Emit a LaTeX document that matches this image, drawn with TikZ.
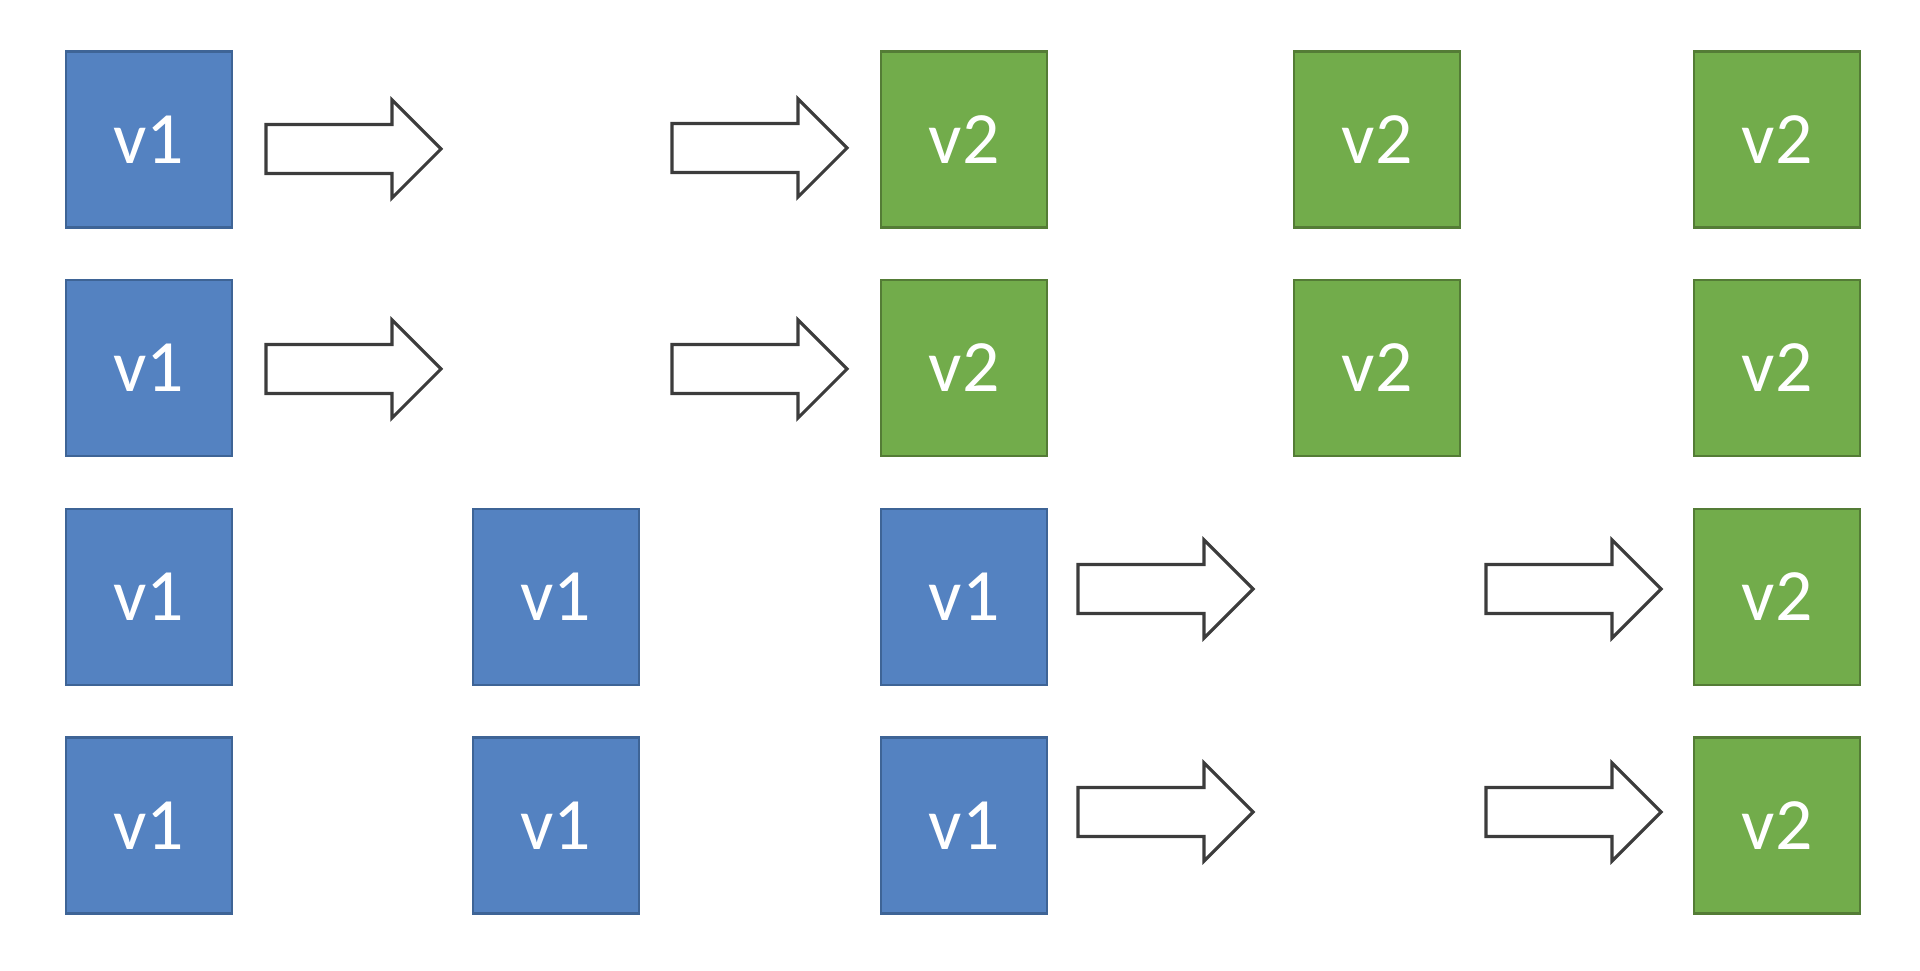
\documentclass[tikz,border=0pt]{standalone}
\usepackage{fontspec}
\setmainfont{Carlito}
\definecolor{vblue}{RGB}{84,130,193}
\definecolor{vblueline}{RGB}{62,100,150}
\definecolor{vgreen}{RGB}{114,172,75}
\definecolor{vgreenline}{RGB}{84,124,54}
\definecolor{arrline}{RGB}{60,60,60}
\tikzset{ver/.style={draw,line width=.8pt,minimum width=1.66cm,minimum height=1.76cm,
   inner sep=0pt,text=white,font=\fontsize{21}{21}\selectfont},
 vone/.style={ver,fill=vblue,draw=vblueline},
 vtwo/.style={ver,fill=vgreen,draw=vgreenline},
 fat/.style={draw=arrline,fill=white,line width=.9pt,line join=miter}}
\newcommand\fatarrow[1]{\draw[fat] (#1) +(0,.245) -- +(1.26,.245) -- +(1.26,.49)
 -- +(1.75,0) -- +(1.26,-.49) -- +(1.26,-.245) -- +(0,-.245) -- cycle;}
\begin{document}
\begin{tikzpicture}
\useasboundingbox (0,0) rectangle (19.2,9.7);
% top two rows: v1 moves over to v2
\foreach \r/\y in {1/8.305,2/6.02}{
 \node[vone] (b\r1) at (1.49,\y) {v1};
 \foreach \c/\x in {3/9.64,4/13.77,5/17.77}
  \node[vtwo] (b\r\c) at (\x,\y) {v2};}
% bottom two rows
\foreach \r/\y in {3/3.73,4/1.445}{
 \foreach \c/\x in {1/1.49,2/5.56,3/9.64}
  \node[vone] (b\r\c) at (\x,\y) {v1};
 \node[vtwo] (b\r5) at (17.77,\y) {v2};}
\fatarrow{2.66,8.21} \fatarrow{6.72,8.22}
\fatarrow{2.66,6.01} \fatarrow{6.72,6.01}
\fatarrow{10.78,3.81} \fatarrow{14.86,3.81}
\fatarrow{10.78,1.58} \fatarrow{14.86,1.58}
\end{tikzpicture}
\end{document}
